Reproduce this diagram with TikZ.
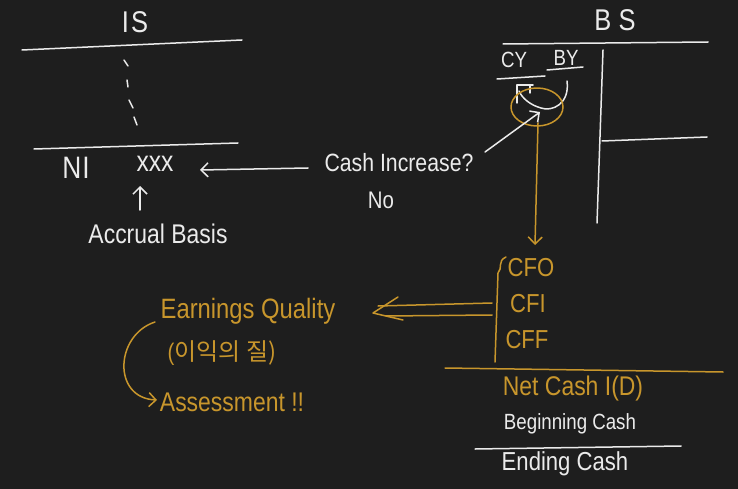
\documentclass[tikz,border=0pt]{standalone}
\usepackage{fontspec}
\setmainfont{Liberation Sans}[FakeStretch=0.85]
\newfontfamily\krfont{Noto Sans CJK KR}
\usetikzlibrary{arrows.meta}
\definecolor{bgc}{HTML}{1E1E1E}
\definecolor{chalk}{HTML}{EBEBEB}
\definecolor{gold}{HTML}{C8962C}
\tikzset{
  wl/.style={draw=chalk, line width=1.5pt, line cap=round, line join=round},
  gl/.style={draw=gold, line width=1.5pt, line cap=round, line join=round},
  wt/.style={text=chalk, inner sep=0pt, anchor=center},
  gt/.style={text=gold, inner sep=0pt, anchor=center},
  barb/.style={-{Straight Barb[length=7pt,width=14pt]}},
  fs/.style={font=\fontsize{#1}{#1}\selectfont}
}
\begin{document}
\begin{tikzpicture}[x=1pt,y=-1pt]
\fill[bgc] (0,0) rectangle (738,489);
\useasboundingbox (0,0) rectangle (738,489);

% ---------- IS ----------
\node[wt,fs=30] (is) at (135,22) {I\kern2pt S};
\draw[wl] (22,50) -- (242,40);
\draw[wl] (124,60) -- (128,66);
\draw[wl] (127,80) -- (128,87);
\draw[wl] (129,100) -- (133,108);
\draw[wl] (134,117) -- (137,125);
\draw[wl] (34,149) -- (238,143);
\node[wt,fs=31] (ni) at (76,168) {N\kern1ptI};
\node[wt,fs=29] (xxx) at (155,164) {xxx};
\node[wt,fs=27] (accr) at (158,234) {Accrual Basis};
\coordinate (upS) at (140,210);
\coordinate (upE) at (140,186);
\draw[wl,barb] (upS) -- (upE);

% ---------- Cash increase ----------
\node[wt,fs=25] (cinc) at (399,163) {Cash Increase?};
\node[wt,fs=24] (no) at (381,200) {No};
\coordinate (ciW) at (308,168);
\coordinate (xxE) at (200,170);
\draw[wl,barb] (ciW) -- (xxE);

% ---------- BS ----------
\node[wt,fs=30] (bs) at (615,20) {B S};
\draw[wl] (503,44) -- (708,42);
\draw[wl] (603,50) -- (597,223);
\draw[wl] (602,141) -- (707,137);
\node[wt,fs=22] (cy) at (514,60) {CY};
\node[wt,fs=22] (by) at (566,58) {BY};
\draw[wl] (497,79) -- (545,76);
\draw[wl] (547,70) -- (583,67);
\draw[wl] (517,103) -- (517,85) -- (533,85);
\draw[wl] (530,86) -- (530,93);
\draw[wl] (567,81) .. controls (570,104) and (552,112) .. (541,108)
                   .. controls (530,105) and (522,98) .. (519,91);
\coordinate (circ) at (537,107);
\draw[gl] (circ) ellipse [x radius=26, y radius=19];
\coordinate (ciNE) at (485,152);
\coordinate (circC) at (540,112);
\draw[wl,barb] (ciNE) -- (circC);
\coordinate (circS) at (538,123);
\coordinate (cfTop) at (535,245);
\draw[gl,barb] (circS) -- (cfTop);

% ---------- Cash flow statement ----------
\draw[gl] (506,257) .. controls (497,261) and (503,268) .. (498,273) -- (495,362);
\node[gt,fs=26] (cfo) at (531,268) {CFO};
\node[gt,fs=26] (cfi) at (528,304) {CFI};
\node[gt,fs=26] (cff) at (527,340) {CFF};
\draw[gl] (445,368) -- (723,372);
\node[gt,fs=27] (net) at (573,389) {Net Cash I(D)};
\node[wt,fs=22] (beg) at (570,424) {Beginning Cash};
\draw[wl] (475,449) -- (681,446);
\node[wt,fs=26] (end) at (565,464) {Ending Cash};

% ---------- double arrow ----------
\coordinate (daU) at (492,303);
\coordinate (daL) at (492,315);
\draw[gl] (daU) -- (378,306);
\draw[gl] (daL) -- (386,316);
\draw[gl] (398,297) -- (373,313) -- (403,320);

% ---------- Earnings quality ----------
\node[gt,fs=28] (eq) at (248,311) {Earnings Quality};
\node[gt,fs=24] (kr) at (222,353) {(\krfont 이익의 질)};
\node[gt,fs=27] (ass) at (232,402) {Assessment !!};
\coordinate (loopS) at (155,322);
\coordinate (loopE) at (157,400);
\draw[gl,barb] (loopS) .. controls (115,335) and (112,398) .. (loopE);
\end{tikzpicture}
\end{document}
